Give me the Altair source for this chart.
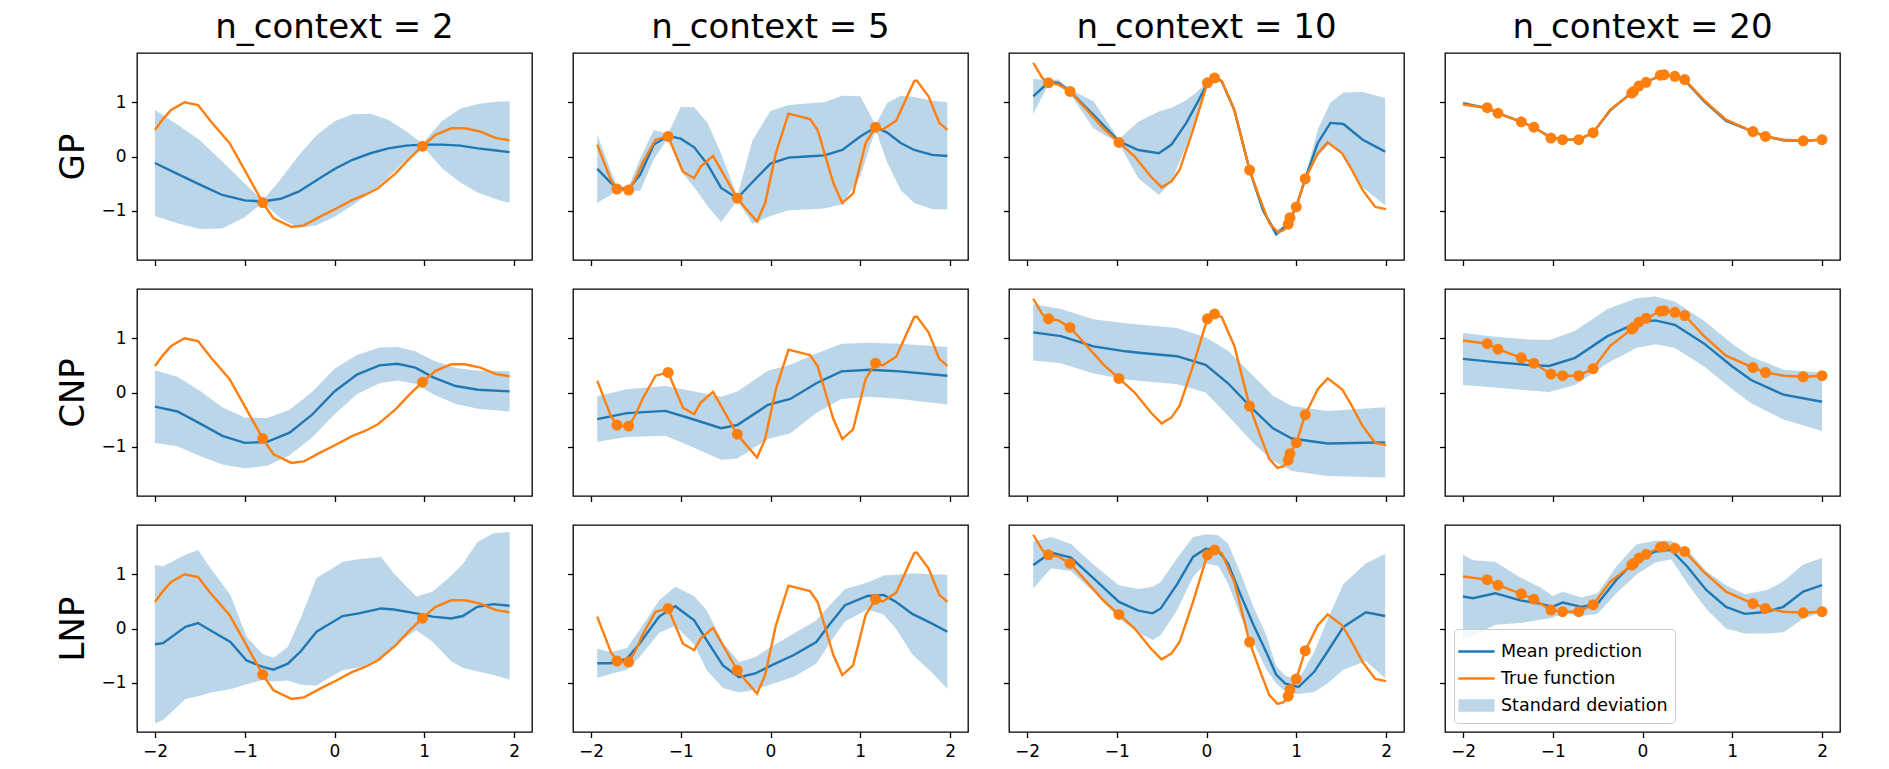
import altair as alt
import pandas as pd

ROW_LABELS = ["GP", "CNP", "LNP"]
COL_TITLES = ["n_context = 2", "n_context = 5", "n_context = 10", "n_context = 20"]
X_TICKS = [-2, -1, 0, 1, 2]
Y_TICKS = [-1, 0, 1]
LEGEND_LABELS = ["Mean prediction", "True function", "Standard deviation"]

# ---------------- column 1 : n_context = 2 ----------------
TRUE_X_C1 = [-2.0, -1.91, -1.82, -1.67, -1.52, -1.375, -1.17, -1.0, -0.80, -0.68, -0.48, -0.34, -0.16,
             0.02, 0.20, 0.34, 0.48, 0.68, 0.84, 0.98, 1.125, 1.30, 1.45, 1.625, 1.80, 1.95]
TRUE_Y_C1 = [0.49, 0.69, 0.86, 1.0, 0.95, 0.64, 0.25, -0.25, -0.85, -1.14, -1.30, -1.27, -1.11,
             -0.96, -0.80, -0.71, -0.59, -0.31, -0.03, 0.19, 0.40, 0.52, 0.52, 0.46, 0.34, 0.30]
CTX_X_C1 = [-0.80, 0.98]
CTX_Y_C1 = [-0.85, 0.19]

GP_X_C1 = [-2.0, -1.75, -1.5, -1.25, -1.0, -0.8, -0.6, -0.4, -0.2, 0.0, 0.2, 0.4, 0.6, 0.8, 0.98,
           1.2, 1.4, 1.6, 1.8, 1.95]
GP_MEAN_C1 = [-0.12, -0.32, -0.52, -0.71, -0.81, -0.83, -0.78, -0.65, -0.44, -0.23, -0.06, 0.06, 0.15,
              0.20, 0.22, 0.22, 0.20, 0.15, 0.11, 0.08]
GP_STD_C1 = [0.98, 0.91, 0.82, 0.62, 0.31, 0.02, 0.36, 0.67, 0.83, 0.88, 0.84, 0.73, 0.53, 0.26, 0.02,
             0.44, 0.68, 0.82, 0.90, 0.94]

CNP_X_C1 = [-2.0, -1.75, -1.5, -1.25, -1.0, -0.75, -0.5, -0.25, 0.0, 0.25, 0.5, 0.7, 0.9, 1.1, 1.35, 1.6, 1.95]
CNP_MEAN_C1 = [-0.26, -0.35, -0.57, -0.80, -0.93, -0.91, -0.74, -0.41, 0.02, 0.33, 0.50, 0.53, 0.46,
               0.28, 0.12, 0.05, 0.02]
CNP_STD_C1 = [0.67, 0.64, 0.60, 0.53, 0.47, 0.44, 0.42, 0.42, 0.42, 0.36, 0.33, 0.31, 0.30, 0.31, 0.33,
              0.35, 0.37]

LNP_X_C1 = [-2.0, -1.91, -1.66, -1.52, -1.375, -1.16, -0.98, -0.80, -0.68, -0.52, -0.375, -0.20, -0.02,
            0.09, 0.27, 0.52, 0.66, 0.91, 1.09, 1.30, 1.43, 1.59, 1.77, 1.95]
LNP_MEAN_C1 = [-0.29, -0.27, 0.03, 0.10, -0.04, -0.25, -0.59, -0.71, -0.76, -0.65, -0.42, -0.06, 0.12,
               0.23, 0.28, 0.37, 0.35, 0.28, 0.22, 0.185, 0.23, 0.40, 0.45, 0.42]
LNP_STD_C1 = [1.46, 1.42, 1.33, 1.35, 1.14, 0.87, 0.44, 0.24, 0.22, 0.31, 0.62, 0.99, 0.99, 1.0, 1.0,
              0.95, 0.67, 0.31, 0.46, 0.79, 0.96, 1.19, 1.31, 1.36]

# ---------------- column 2 : n_context = 5 ----------------
TRUE_X_C2 = [-1.93, -1.78, -1.71, -1.64, -1.58, -1.51, -1.42, -1.28, -1.14, -0.975, -0.85, -0.78, -0.64,
             -0.37, -0.26, -0.15, -0.06, 0.06, 0.20, 0.44, 0.525, 0.70, 0.80, 0.92, 1.06, 1.17, 1.25,
             1.40, 1.60, 1.63, 1.76, 1.88, 1.97]
TRUE_Y_C2 = [0.22, -0.43, -0.60, -0.62, -0.62, -0.43, -0.10, 0.31, 0.37, -0.28, -0.40, -0.19, 0.01,
             -0.77, -0.99, -1.20, -0.86, 0.06, 0.79, 0.69, 0.49, -0.49, -0.86, -0.68, 0.25, 0.54, 0.50,
             0.66, 1.39, 1.40, 1.11, 0.62, 0.49]
CTX_X_C2 = [-1.71, -1.58, -1.14, -0.37, 1.17]
CTX_Y_C2 = [-0.60, -0.62, 0.37, -0.77, 0.54]

GP_X_C2 = [-1.93, -1.8, -1.71, -1.58, -1.45, -1.3, -1.14, -1.0, -0.85, -0.7, -0.55, -0.37, -0.2, 0.0,
           0.2, 0.4, 0.6, 0.8, 1.0, 1.17, 1.3, 1.45, 1.6, 1.8, 1.97]
GP_MEAN_C2 = [-0.23, -0.45, -0.59, -0.60, -0.33, 0.22, 0.38, 0.33, 0.17, -0.15, -0.58, -0.77, -0.47,
              -0.13, -0.02, 0.0, 0.02, 0.12, 0.37, 0.54, 0.44, 0.25, 0.12, 0.03, 0.01]
GP_STD_C2 = [0.63, 0.28, 0.04, 0.04, 0.30, 0.27, 0.04, 0.59, 0.74, 0.77, 0.63, 0.04, 0.77, 0.97, 0.97,
             0.98, 0.98, 1.0, 0.74, 0.04, 0.55, 0.87, 0.98, 1.0, 0.99]

CNP_X_C2 = [-1.93, -1.6, -1.17, -0.89, -0.55, -0.37, -0.03, 0.22, 0.51, 0.79, 1.11, 1.44, 1.97]
CNP_MEAN_C2 = [-0.49, -0.38, -0.34, -0.48, -0.66, -0.60, -0.23, -0.12, 0.17, 0.39, 0.42, 0.39, 0.31]
CNP_STD_C2 = [0.42, 0.44, 0.46, 0.51, 0.58, 0.62, 0.63, 0.63, 0.55, 0.51, 0.50, 0.51, 0.53]

LNP_X_C2 = [-1.93, -1.78, -1.6, -1.46, -1.24, -1.06, -0.85, -0.71, -0.53, -0.35, -0.17, 0.01, 0.26,
            0.51, 0.65, 0.83, 1.08, 1.26, 1.40, 1.58, 1.79, 1.97]
LNP_MEAN_C2 = [-0.64, -0.64, -0.56, -0.28, 0.22, 0.41, 0.15, -0.22, -0.68, -0.90, -0.83, -0.68, -0.49,
               -0.25, 0.06, 0.43, 0.60, 0.62, 0.49, 0.27, 0.10, -0.06]
LNP_STD_C2 = [0.27, 0.20, 0.20, 0.25, 0.30, 0.36, 0.45, 0.55, 0.42, 0.28, 0.30, 0.35, 0.40, 0.40, 0.35,
              0.30, 0.25, 0.36, 0.50, 0.75, 0.90, 1.05]

# ---------------- column 3 : n_context = 10 ----------------
TRUE_X_C3 = [-1.93, -1.83, -1.76, -1.65, -1.52, -1.37, -1.15, -0.975, -0.80, -0.62, -0.50, -0.39, -0.30,
             -0.15, 0.01, 0.09, 0.17, 0.31, 0.48, 0.60, 0.70, 0.79, 0.86, 0.91, 0.93, 1.0, 1.10, 1.24,
             1.35, 1.51, 1.60, 1.74, 1.88, 2.0]
TRUE_Y_C3 = [1.73, 1.45, 1.36, 1.33, 1.20, 0.93, 0.52, 0.26, 0.0, -0.37, -0.57, -0.46, -0.25, 0.49,
             1.36, 1.45, 1.39, 0.86, -0.25, -0.80, -1.23, -1.39, -1.36, -1.25, -1.13, -0.93, -0.41, 0.06,
             0.26, 0.06, -0.19, -0.62, -0.93, -0.97]
CTX_X_C3 = [-1.76, -1.52, -0.975, 0.01, 0.09, 0.48, 0.91, 0.93, 1.0, 1.10]
CTX_Y_C3 = [1.36, 1.20, 0.26, 1.36, 1.45, -0.25, -1.25, -1.13, -0.93, -0.41]

GP_X_C3 = [-1.93, -1.76, -1.65, -1.52, -1.26, -0.975, -0.76, -0.53, -0.39, -0.225, -0.1, 0.01, 0.09,
           0.17, 0.31, 0.48, 0.63, 0.775, 0.91, 1.0, 1.10, 1.24, 1.38, 1.525, 1.74, 1.99]
GP_MEAN_C3 = [1.11, 1.37, 1.36, 1.20, 0.77, 0.28, 0.12, 0.06, 0.22, 0.62, 1.0, 1.35, 1.45, 1.39, 0.86,
              -0.25, -0.99, -1.43, -1.25, -0.93, -0.41, 0.25, 0.62, 0.60, 0.31, 0.09]
GP_STD_C3 = [0.32, 0.04, 0.06, 0.04, 0.25, 0.04, 0.52, 0.77, 0.68, 0.42, 0.20, 0.04, 0.04, 0.04, 0.04,
             0.04, 0.05, 0.06, 0.04, 0.04, 0.04, 0.25, 0.37, 0.58, 0.88, 0.99]

CNP_X_C3 = [-1.93, -1.62, -1.26, -0.9, -0.725, -0.33, -0.01, 0.24, 0.525, 0.74, 0.95, 1.35, 1.99]
CNP_MEAN_C3 = [1.11, 1.04, 0.85, 0.76, 0.73, 0.67, 0.51, 0.17, -0.32, -0.66, -0.85, -0.94, -0.92]
CNP_STD_C3 = [0.52, 0.50, 0.50, 0.52, 0.52, 0.52, 0.51, 0.60, 0.62, 0.60, 0.60, 0.60, 0.65]

LNP_X_C3 = [-1.93, -1.73, -1.51, -1.26, -0.975, -0.76, -0.6, -0.51, -0.33, -0.15, -0.01, 0.13, 0.24,
            0.38, 0.525, 0.67, 0.775, 0.88, 1.025, 1.20, 1.35, 1.525, 1.775, 1.99]
LNP_MEAN_C3 = [1.17, 1.40, 1.31, 0.93, 0.49, 0.33, 0.28, 0.37, 0.81, 1.32, 1.47, 1.44, 1.20, 0.62, 0.06,
               -0.45, -0.85, -1.02, -1.08, -0.80, -0.42, 0.03, 0.30, 0.23]
LNP_STD_C3 = [0.43, 0.29, 0.25, 0.25, 0.31, 0.40, 0.49, 0.49, 0.48, 0.37, 0.27, 0.28, 0.37, 0.40, 0.33,
              0.31, 0.16, 0.15, 0.13, 0.37, 0.59, 0.79, 0.90, 1.15]

# ---------------- column 4 : n_context = 20 ----------------
TRUE_X_C4 = [-2.0, -1.73, -1.61, -1.35, -1.21, -1.02, -0.89, -0.71, -0.55, -0.36, -0.12, -0.10, -0.04,
             0.04, 0.20, 0.24, 0.36, 0.47, 0.68, 0.93, 1.23, 1.37, 1.57, 1.79, 2.0]
TRUE_Y_C4 = [0.96, 0.90, 0.80, 0.64, 0.54, 0.34, 0.31, 0.31, 0.44, 0.86, 1.17, 1.20, 1.30, 1.37, 1.50,
             1.51, 1.48, 1.42, 1.05, 0.68, 0.46, 0.37, 0.31, 0.29, 0.31]
CTX_X_C4 = [-1.73, -1.61, -1.35, -1.21, -1.02, -0.89, -0.71, -0.55, -0.12, -0.10, -0.04, 0.04, 0.20,
            0.24, 0.36, 0.47, 1.23, 1.37, 1.79, 2.0]
CTX_Y_C4 = [0.90, 0.80, 0.64, 0.54, 0.34, 0.31, 0.31, 0.44, 1.17, 1.20, 1.30, 1.37, 1.50, 1.51, 1.48,
            1.42, 0.46, 0.37, 0.29, 0.31]

GP_X_C4 = [-2.0, -1.73, -1.61, -1.35, -1.21, -1.02, -0.89, -0.71, -0.55, -0.36, -0.12, -0.04, 0.04,
           0.24, 0.36, 0.47, 0.68, 0.93, 1.23, 1.37, 1.57, 1.79, 2.0]
GP_MEAN_C4 = [0.98, 0.89, 0.80, 0.64, 0.54, 0.35, 0.31, 0.31, 0.44, 0.85, 1.18, 1.30, 1.38, 1.51, 1.48,
              1.41, 1.03, 0.66, 0.46, 0.37, 0.30, 0.29, 0.31]
GP_STD_C4 = [0.04, 0.02, 0.02, 0.02, 0.02, 0.02, 0.02, 0.02, 0.02, 0.03, 0.02, 0.02, 0.02, 0.02, 0.02,
             0.02, 0.03, 0.03, 0.02, 0.02, 0.03, 0.02, 0.02]

CNP_X_C4 = [-2.0, -1.64, -1.29, -1.04, -0.75, -0.39, -0.07, 0.14, 0.36, 0.68, 1.0, 1.21, 1.57, 2.0]
CNP_MEAN_C4 = [0.62, 0.56, 0.51, 0.49, 0.64, 1.04, 1.28, 1.33, 1.25, 0.91, 0.48, 0.23, -0.04, -0.17]
CNP_STD_C4 = [0.48, 0.47, 0.47, 0.48, 0.50, 0.50, 0.46, 0.44, 0.43, 0.42, 0.42, 0.43, 0.46, 0.54]

LNP_X_C4 = [-2.0, -1.89, -1.64, -1.36, -1.14, -1.0, -0.89, -0.68, -0.5, -0.29, -0.07, 0.14, 0.32, 0.5,
            0.71, 0.93, 1.14, 1.39, 1.57, 1.79, 2.0]
LNP_MEAN_C4 = [0.59, 0.56, 0.65, 0.52, 0.46, 0.40, 0.48, 0.40, 0.46, 0.90, 1.27, 1.42, 1.45, 1.14, 0.71,
               0.40, 0.27, 0.31, 0.40, 0.68, 0.80]
LNP_STD_C4 = [0.77, 0.70, 0.58, 0.42, 0.30, 0.20, 0.20, 0.17, 0.19, 0.25, 0.28, 0.20, 0.17, 0.31, 0.35,
              0.40, 0.36, 0.40, 0.47, 0.50, 0.50]

TRUE = [(TRUE_X_C1, TRUE_Y_C1), (TRUE_X_C2, TRUE_Y_C2), (TRUE_X_C3, TRUE_Y_C3), (TRUE_X_C4, TRUE_Y_C4)]
CTX = [(CTX_X_C1, CTX_Y_C1), (CTX_X_C2, CTX_Y_C2), (CTX_X_C3, CTX_Y_C3), (CTX_X_C4, CTX_Y_C4)]
PRED = [
    [(GP_X_C1, GP_MEAN_C1, GP_STD_C1), (GP_X_C2, GP_MEAN_C2, GP_STD_C2),
     (GP_X_C3, GP_MEAN_C3, GP_STD_C3), (GP_X_C4, GP_MEAN_C4, GP_STD_C4)],
    [(CNP_X_C1, CNP_MEAN_C1, CNP_STD_C1), (CNP_X_C2, CNP_MEAN_C2, CNP_STD_C2),
     (CNP_X_C3, CNP_MEAN_C3, CNP_STD_C3), (CNP_X_C4, CNP_MEAN_C4, CNP_STD_C4)],
    [(LNP_X_C1, LNP_MEAN_C1, LNP_STD_C1), (LNP_X_C2, LNP_MEAN_C2, LNP_STD_C2),
     (LNP_X_C3, LNP_MEAN_C3, LNP_STD_C3), (LNP_X_C4, LNP_MEAN_C4, LNP_STD_C4)],
]

BLUE = "#1f77b4"
ORANGE = "#ff7f0e"
BAND = "#bcd6e8"
FONT = "DejaVu Sans"
PANEL_W = 395
PANEL_H = 207
LW = 2.4

XS = alt.Scale(domain=[-2.2, 2.2], nice=False, zero=False)
YS = alt.Scale(domain=[-1.91, 1.91], nice=False, zero=False)

LINE_PATH = "M-1.3,0L1.3,0"
PATCH_PATH = "M-1.2,-0.36L1.2,-0.36L1.2,0.36L-1.2,0.36Z"


def panel(r, c):
    xa = alt.Axis(values=X_TICKS, labels=(r == 2), title=None, format="d")
    if c == 0:
        ya = alt.Axis(values=Y_TICKS, labels=True, title=ROW_LABELS[r], format="d")
    else:
        ya = alt.Axis(values=Y_TICKS, labels=False, title=None, format="d")

    px, pm, ps = PRED[r][c]
    band_df = pd.DataFrame({"x": px, "lo": [m - s for m, s in zip(pm, ps)],
                            "hi": [m + s for m, s in zip(pm, ps)]})
    mean_df = pd.DataFrame({"x": px, "y": pm})
    tx, ty = TRUE[c]
    true_df = pd.DataFrame({"x": tx, "y": ty})
    cx, cy = CTX[c]
    ctx_df = pd.DataFrame({"x": cx, "y": cy})

    X = alt.X("x:Q", scale=XS, axis=xa)
    band = alt.Chart(band_df).mark_area(color=BLUE, opacity=0.3).encode(
        x=X, y=alt.Y("lo:Q", scale=YS, axis=ya), y2="hi:Q")
    mean = alt.Chart(mean_df).mark_line(color=BLUE, strokeWidth=LW).encode(
        x=X, y=alt.Y("y:Q", scale=YS, axis=ya))
    true = alt.Chart(true_df).mark_line(color=ORANGE, strokeWidth=LW).encode(
        x=X, y=alt.Y("y:Q", scale=YS, axis=ya))
    pts = alt.Chart(ctx_df).mark_circle(color=ORANGE, size=120, opacity=1).encode(
        x=X, y=alt.Y("y:Q", scale=YS, axis=ya))
    layers = [band, mean, true, pts]

    if r == 2 and c == 3:
        leg_df = pd.DataFrame({"series": LEGEND_LABELS, "x": [None] * 3, "y": [None] * 3})
        leg = alt.Legend(title=None, orient="bottom-left", offset=9, labelFontSize=17.5, labelFont=FONT,
                         labelColor="black", symbolSize=784, symbolStrokeWidth=LW, rowPadding=3,
                         labelOffset=9, padding=7, strokeColor="#cccccc",
                         fillColor="rgba(255,255,255,0.8)", cornerRadius=4, labelLimit=400)
        colors = alt.Scale(domain=LEGEND_LABELS, range=[BLUE, ORANGE, BAND])
        shapes = alt.Scale(domain=LEGEND_LABELS, range=[LINE_PATH, LINE_PATH, PATCH_PATH])
        legend_layer = alt.Chart(leg_df).mark_point(filled=True, size=784, strokeWidth=LW, opacity=1).encode(
            x=X, y=alt.Y("y:Q", scale=YS, axis=ya),
            fill=alt.Fill("series:N", scale=colors, legend=leg),
            stroke=alt.Stroke("series:N", scale=colors, legend=leg),
            shape=alt.Shape("series:N", scale=shapes, legend=leg))
        layers.append(legend_layer)

    props = dict(width=PANEL_W, height=PANEL_H)
    if r == 0:
        props["title"] = alt.TitleParams(text=COL_TITLES[c], fontSize=34, font=FONT, fontWeight="normal",
                                         color="black", offset=8, anchor="middle")
    return alt.layer(*layers).properties(**props)


rows = []
for r in range(3):
    row = alt.hconcat(*[panel(r, c) for c in range(4)], spacing=33)
    row = row.resolve_scale(fill="independent", stroke="independent", shape="independent") \
             .resolve_legend(fill="independent", stroke="independent", shape="independent")
    rows.append(row)

chart = alt.vconcat(*rows, spacing=21).resolve_scale(
    fill="independent", stroke="independent", shape="independent").resolve_legend(
    fill="independent", stroke="independent", shape="independent")

chart = chart.properties(padding={"left": 56, "top": 10, "right": 5, "bottom": 2}).configure(
    font=FONT).configure_view(stroke="black", strokeWidth=1.3).configure_axis(
    domain=False, grid=False, ticks=True, tickColor="black", tickWidth=1.3, tickSize=5.5,
    labelFontSize=17, labelFont=FONT, labelColor="black", labelPadding=5.5, labelFlush=False,
    titleFontSize=34, titleFont=FONT, titleFontWeight="normal", titleColor="black", titlePadding=10)

chart.save("out.html", embed_options={"renderer": "svg", "actions": False})
